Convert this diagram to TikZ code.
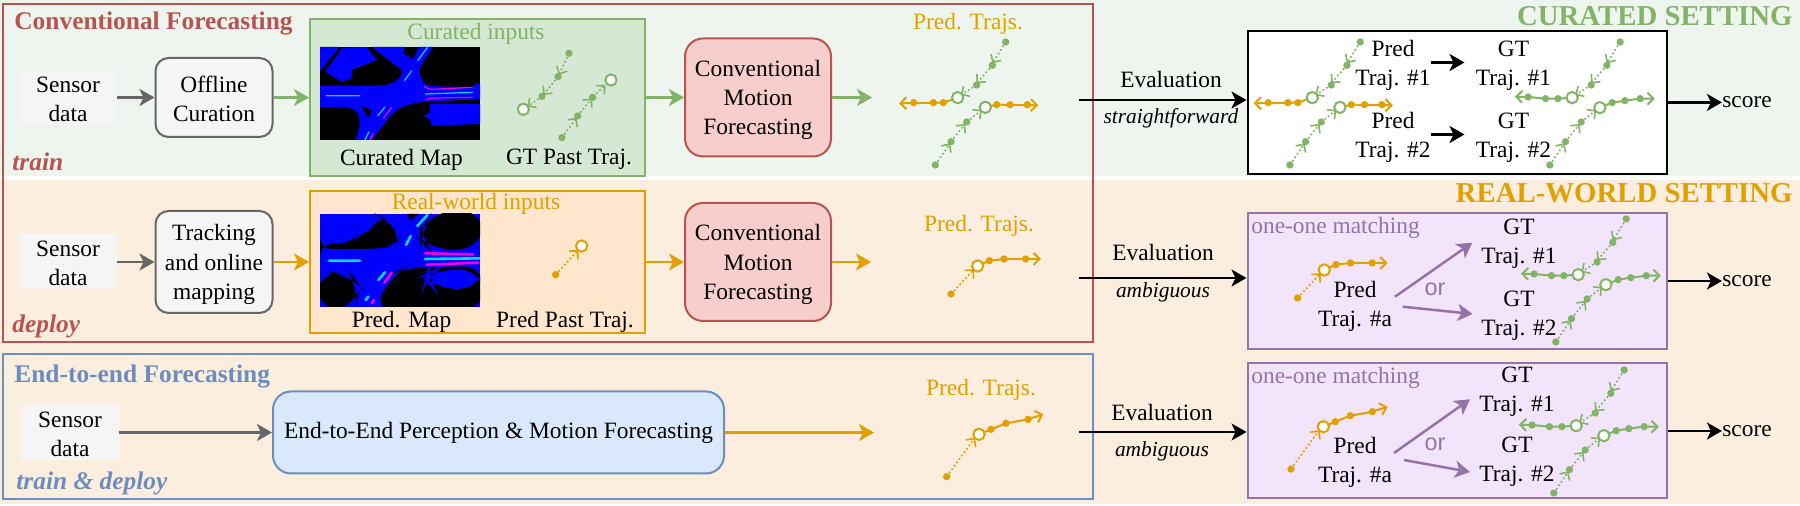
\documentclass[tikz,border=0pt]{standalone}
\usepackage{fontspec}
\setmainfont{Liberation Serif}
\newfontfamily\orfont{Liberation Sans}
\usetikzlibrary{arrows.meta}
\definecolor{bggreen}{HTML}{EEF5EE}
\definecolor{bgorange}{HTML}{FCEEDF}
\definecolor{dgreen}{HTML}{82B366}
\definecolor{lgreen}{HTML}{D5E8D4}
\definecolor{dorange}{HTML}{E0A000}
\definecolor{lorange}{HTML}{FFE6CC}
\definecolor{dred}{HTML}{B85450}
\definecolor{lred}{HTML}{F8CECC}
\definecolor{dblue}{HTML}{6C8EBF}
\definecolor{lblue}{HTML}{DAE8FC}
\definecolor{dpurple}{HTML}{9673A6}
\definecolor{lpurple}{HTML}{F2E4FA}
\definecolor{lgray}{HTML}{F5F5F5}
\definecolor{dgray}{HTML}{666666}
\definecolor{mapblue}{HTML}{0000FF}
\definecolor{mapcyan}{HTML}{00D8FF}
\definecolor{mapmag}{HTML}{F000E0}
\newcommand\upA{\rule{0pt}{10.7pt}}
\newcommand\upB{\rule{0pt}{9.5pt}}
\tikzset{
  lbl/.style={font=\fontsize{11.7}{14.6}\selectfont,inner sep=0pt,align=center},
  ttl/.style={font=\fontsize{12.7}{15}\selectfont\bfseries,inner sep=0pt},
  tag/.style={font=\fontsize{12.7}{15}\selectfont\bfseries\itshape,inner sep=0pt},
  sett/.style={font=\fontsize{14.4}{16}\selectfont\bfseries,inner sep=0pt},
  evtxt/.style={font=\fontsize{10.7}{13}\selectfont\itshape,inner sep=0pt},
  frame/.style={draw,line width=1pt,inner sep=0pt},
  sensor/.style={fill=lgray,lbl,minimum width=49pt,minimum height=27.5pt},
  graybox/.style={draw=dgray,fill=lgray,line width=1pt,rounded corners=6.5pt,lbl},
  pinkbox/.style={draw=dred,fill=lred,line width=1pt,rounded corners=9pt,lbl,minimum width=73pt,minimum height=59pt},
  conn/.style={line width=1.25pt,-{Stealth[length=7.5pt,width=8.5pt,inset=2pt]}},
  pastline/.style={line width=.8pt,dash pattern=on .9pt off 1.2pt,-{Straight Barb[length=3pt,width=6pt]}},
  futline/.style={line width=1pt,-{Straight Barb[length=3pt,width=6pt]}},
  crop/.style={scale=1/3},
}
\newcommand\tdots[2]{\foreach \p in {#2}{\fill[#1] \p circle[radius=11];}}
\newcommand\tring[2]{\draw[line width=1pt,draw=#1,fill=white] #2 circle[radius=17];}
% past trajectories (frame of a 3x crop)
\newcommand\pastA{%
  \draw[dgreen,pastline] (767,126)--(727,190);
  \draw[dgreen,pastline] (727,196)--(680,250);
  \draw[dgreen,pastline] (680,255)--(632,285);
  \tdots{dgreen}{(767,126),(727,196),(680,255)}}
\newcommand\pastB{%
  \draw[dgreen,pastline] (556,495)--(600,430);
  \draw[dgreen,pastline] (603,425)--(645,372);
  \draw[dgreen,pastline] (650,366)--(695,330);
  \tdots{dgreen}{(556,495),(603,425),(650,366)}}
\newcommand\predfut{%
  \draw[dorange,futline] (623,293)--(580,308)--(447,310);
  \draw[dorange,futline] (706,322)--(740,314)--(865,316);
  \tdots{dorange}{(580,308),(550,308),(491,308),(740,314),(780,314),(832,314)}
  \tring{dgreen}{(623,293)}\tring{dgreen}{(706,322)}}
\newcommand\gtfut{%
  \draw[dgreen,futline] (623,293)--(580,296)--(543,296)--(491,291)--(451,290);
  \draw[dgreen,futline] (706,323)--(743,308)--(781,302)--(827,296)--(871,296);
  \tdots{dgreen}{(580,296),(543,296),(491,291),(743,308),(781,302),(827,296)}
  \tring{dgreen}{(623,293)}\tring{dgreen}{(706,323)}}
\newcommand\rwone{%
  \draw[dorange,pastline] (573,372)--(642,298);
  \draw[dorange,futline] (653,288)--(688,272)--(732,267)--(843,267);
  \tdots{dorange}{(573,372),(688,272),(732,267),(797,267)}
  \tring{dorange}{(653,288)}}
\newcommand\rwtwo{%
  \draw[dorange,pastline] (560,920)--(645,803);
  \draw[dorange,futline] (657,793)--(693,778)--(738,760)--(804,748)--(850,733);
  \tdots{dorange}{(560,920),(693,778),(738,760),(804,748)}
  \tring{dorange}{(657,793)}}
\begin{document}
\begin{tikzpicture}[x=.5pt,y=-.5pt]
\useasboundingbox (0,0) rectangle (1800,506);
% setting bands
\fill[bggreen] (0,0) rectangle (1800,176);
\fill[bgorange] (0,180) rectangle (1800,504);
% frames
\draw[dred,line width=1pt] (3,4) rectangle (1093,342);
\draw[dblue,line width=1pt] (3,354) rectangle (1093,499);
\node[ttl,text=dred,anchor=west] (ctitle) at (14,24) {Conventional Forecasting};
\node[ttl,text=dblue,anchor=west] (etitle) at (14,376) {End-to-end Forecasting};
\node[tag,text=dred,anchor=west] (ttrain) at (12,162) {train};
\node[tag,text=dred,anchor=west] (tdeploy) at (12,326) {deploy};
\node[tag,text=dblue,anchor=west] (tboth) at (16,483) {train \& deploy};
\node[sett,text=dgreen,anchor=east] (scur) at (1793,16) {CURATED SETTING};
\node[sett,text=dorange,anchor=east] (sreal) at (1793,193) {REAL-WORLD SETTING};
% row 1
\node[sensor] (s1) at (68,97.5) {\upB Sensor\\data};
\node[graybox,minimum width=58.5pt,minimum height=39.5pt] (off) at (214,97.5) {\upB Offline\\Curation};
\node[frame,draw=dgreen,fill=lgreen,minimum width=167.5pt,minimum height=78.5pt] (cin) at (477.5,97.5) {};
\node[lbl,text=dgreen] (cint) at (476,34) {Curated inputs};
\node[lbl] (cm) at (401.5,159.5) {Curated Map};
\node[lbl] (gp) at (569,159.5) {GT Past Traj.};
\node[pinkbox] (m1) at (758,97.5) {\upA Conventional\\Motion\\Forecasting};
\coordinate (e1) at (872,97.5);
\node[lbl,text=dorange] (pt1) at (968,23.5) {Pred. Trajs.};
\draw[conn,dgray] (s1)--(off);
\draw[conn,dgreen] (off)--(cin);
\draw[conn,dgreen] (cin)--(m1);
\draw[conn,dgreen] (m1)--(e1);
% row 2
\node[sensor] (s2) at (68,262) {\upB Sensor\\data};
\node[graybox,minimum width=58.5pt,minimum height=51pt] (trk) at (214,262) {\upA Tracking\\and online\\mapping};
\node[frame,draw=dorange,fill=lorange,minimum width=167.5pt,minimum height=71pt] (rin) at (477.5,262) {};
\node[lbl,text=dorange] (rint) at (476,204) {Real-world inputs};
\node[lbl] (pm) at (401.5,321.5) {Pred. Map};
\node[lbl] (pp) at (565,321.5) {Pred Past Traj.};
\node[pinkbox] (m2) at (758,262) {\upA Conventional\\Motion\\Forecasting};
\coordinate (e2) at (871,262);
\node[lbl,text=dorange] (pt2) at (979,225.5) {Pred. Trajs.};
\draw[conn,dgray] (s2)--(trk);
\draw[conn,dorange] (trk)--(rin);
\draw[conn,dorange] (rin)--(m2);
\draw[conn,dorange] (m2)--(e2);
% row 3
\node[sensor] (s3) at (70,432.5) {\upB Sensor\\data};
\node[draw=dblue,fill=lblue,line width=1pt,rounded corners=9pt,lbl,minimum width=225.5pt,minimum height=41pt] (e2e) at (498.5,432.5) {End-to-End Perception \& Motion Forecasting};
\coordinate (e3) at (874,432.5);
\node[lbl,text=dorange] (pt3) at (981,389.5) {Pred. Trajs.};
\draw[conn,dgray] (s3)--(e2e);
\draw[conn,dorange] (e2e)--(e3);
% curated map
\begin{scope}[shift={(270,30)},crop]
\clip (150,51) rectangle (630,330);
\fill[black] (150,51) rectangle (630,330);
\fill[mapblue] (150,51)--(208,51)--(150,125)--cycle;
\fill[mapblue] (165,125)--(218,53)--(290,51)--(320,90)--(245,120)--(245,145)--(215,155)--cycle;
\fill[mapblue] (150,167)--(330,167) .. controls (375,165) and (400,140) .. (395,120)--(305,51)--(405,51)--(400,70)--(430,88)--(447,51)--(490,51)--(450,110) .. controls (445,140) and (460,165) .. (480,168)--(605,172)--(620,160)--(630,162)--(630,207)--(470,215) .. controls (400,220) and (370,240) .. (345,280)--(305,330)--(255,330) .. controls (270,300) and (275,270) .. (260,245) .. controls (250,232) and (220,230) .. (150,232)--cycle;
\fill[black] (275,228)--(305,240)--(295,265)--cycle;
\fill[mapblue] (480,222)--(630,222)--(630,282)--(485,287)--(478,265)--(460,258)--(478,248)--cycle;
\draw[mapcyan,line width=.6pt] (168,197)--(270,197) (403,152)--(425,122) (443,92)--(473,52) (465,192)--(608,187) (323,258)--(345,231) (285,330)--(297,305);
\draw[mapmag,line width=.6pt] (462,168) .. controls (470,175) .. (485,178)--(608,172) (468,210) .. controls (475,205) .. (490,204)--(608,202) (340,265)--(365,232) (300,330)--(310,310);
\end{scope}
% predicted map
\begin{scope}[shift={(270,160)},crop]
\clip (150,162) rectangle (630,441);
\fill[mapblue] (150,162) rectangle (630,441);
\fill[black,rounded corners=6pt] (150,252)--(245,250)--(260,225)--(315,210)--(325,165)--(335,170)--(392,225)--(375,258)--(330,266)--(150,268)--cycle;
\fill[black,rounded corners=12pt] (490,150)--(640,150)--(640,265)--(480,272)--(450,240)--(450,215)--cycle;
\fill[black,rounded corners=10pt] (370,340)--(310,450)--(640,450)--(640,318)--(470,322)--(400,325)--cycle;
\fill[mapblue,rounded corners=12pt] (465,360)--(470,340)--(490,330)--(640,328)--(640,385)--(490,388)--cycle;
\fill[black,rounded corners=12pt] (140,335)--(240,338)--(270,375)--(255,450)--(140,450)--cycle;
\fill[black] (420,182)--(445,162)--(412,162)--cycle;
\draw[mapcyan,line width=1.3pt,line cap=round] (178,302)--(270,302) (408,255)--(422,228) (442,198)--(472,165) (465,297)--(630,295) (325,360)--(345,337) (287,420)--(295,410);
\draw[mapmag,line width=1.3pt,line cap=round] (465,280)--(610,283) (470,314)--(625,308) (343,368)--(365,338) (305,430)--(312,420);
\end{scope}
% curated input GT past trajectories
\begin{scope}[shift={(270,30)},crop]
\draw[dgreen,pastline] (897,70)--(867,135);
\draw[dgreen,pastline] (864,140)--(820,195);
\draw[dgreen,pastline] (816,199)--(772,230);
\tdots{dgreen}{(897,70),(864,140),(816,199)}
\tring{dgreen}{(760,238)}
\draw[dgreen,pastline] (876,323)--(920,263);
\draw[dgreen,pastline] (923,258)--(965,205);
\draw[dgreen,pastline] (970,200)--(1006,165);
\tdots{dgreen}{(876,323),(923,258),(968,202)}
\tring{dgreen}{(1023,150)}
\end{scope}
\begin{scope}[shift={(270,160)},crop]
\draw[dorange,pastline] (857,344)--(925,270);
\tdots{dorange}{(857,344)}
\tring{dorange}{(935,258)}
\end{scope}
% predicted trajectories
\begin{scope}[shift={(750,0)},crop]\pastA\pastB\predfut\end{scope}
\begin{scope}[shift={(760,170)},crop]\rwone\rwtwo\end{scope}
% evaluation boxes
\node[frame,draw=black,fill=white,minimum width=209.5pt,minimum height=71.5pt] (ev1) at (1457,102.4) {};
\node[frame,draw=dpurple,fill=lpurple,minimum width=209.5pt,minimum height=68pt] (ev2) at (1457,281) {};
\node[frame,draw=dpurple,fill=lpurple,minimum width=209.5pt,minimum height=67.5pt] (ev3) at (1457,431) {};
% evaluation arrows
\coordinate (a1) at (1079,100);
\coordinate (a2) at (1079,278);
\coordinate (a3) at (1079,432);
\draw[conn,black] (a1)--(a1-|ev1.west);
\draw[conn,black] (a2)--(a2-|ev2.west);
\draw[conn,black] (a3)--(a3-|ev3.west);
\node[lbl] (ev1t) at (1171,80) {Evaluation};
\node[evtxt] (ev1s) at (1171,118) {straightforward};
\node[lbl] (ev2t) at (1163,253) {Evaluation};
\node[evtxt] (ev2s) at (1163,292) {ambiguous};
\node[lbl] (ev3t) at (1162,413) {Evaluation};
\node[evtxt] (ev3s) at (1162,451) {ambiguous};
% scores
\node[lbl] (sc1) at (1747,102) {score};
\node[lbl] (sc2) at (1747,281) {score};
\node[lbl] (sc3) at (1747,431) {score};
\draw[conn,black] (ev1.east)--(ev1.east-|sc1.west);
\draw[conn,black] (ev2.east)--(ev2.east-|sc2.west);
\draw[conn,black] (ev3.east)--(ev3.east-|sc3.west);
% curated box content
\begin{scope}[shift={(1104.6,0)},crop]\pastA\pastB\predfut\end{scope}
\begin{scope}[shift={(1364.5,0)},crop]\pastA\pastB\gtfut\end{scope}
\node[lbl] (p1) at (1393,62.5) {\upA Pred\\Traj. \#1};
\node[lbl] (g1) at (1513.5,62.5) {\upA GT\\Traj. \#1};
\node[lbl] (p2) at (1393,134.5) {\upA Pred\\Traj. \#2};
\node[lbl] (g2) at (1513.5,134.5) {\upA GT\\Traj. \#2};
\draw[conn,black,shorten >=5.5pt] (p1)--(g1);
\draw[conn,black,shorten >=5.5pt] (p2)--(g2);
% real-world box content
\begin{scope}[shift={(1106.6,174)},crop]\rwone\end{scope}
\begin{scope}[shift={(1370.5,177)},crop]\pastA\pastB\gtfut\end{scope}
\node[lbl,text=dpurple,anchor=west] (oo1) at (1251,227.5) {one-one matching};
\node[lbl] (p3) at (1355,303.5) {\upA Pred\\Traj. \#a};
\node[lbl] (g3) at (1519,241) {\upA GT\\Traj. \#1};
\node[lbl] (g4) at (1519,312.5) {\upA GT\\Traj. \#2};
\coordinate (q1) at (1395,296.7);
\coordinate (q2) at (1472.3,242.7);
\coordinate (q3) at (1402.7,306.7);
\coordinate (q4) at (1472.7,314);
\draw[conn,dpurple] (q1)--(q2);
\draw[conn,dpurple] (q3)--(q4);
\node[lbl,text=dpurple,font=\fontsize{11.7}{14}\selectfont\orfont] (or1) at (1435,289) {or};
% end-to-end box content
\begin{scope}[shift={(1104.3,162.4)},crop]\rwtwo\end{scope}
\begin{scope}[shift={(1368.5,328)},crop]\pastA\pastB\gtfut\end{scope}
\node[lbl,text=dpurple,anchor=west] (oo2) at (1251,377.5) {one-one matching};
\node[lbl] (p4) at (1355,460) {\upA Pred\\Traj. \#a};
\node[lbl] (g5) at (1517,389) {\upA GT\\Traj. \#1};
\node[lbl] (g6) at (1517,459) {\upA GT\\Traj. \#2};
\coordinate (q5) at (1394,453);
\coordinate (q6) at (1470,399.3);
\coordinate (q7) at (1404,460);
\coordinate (q8) at (1470,472);
\draw[conn,dpurple] (q5)--(q6);
\draw[conn,dpurple] (q7)--(q8);
\node[lbl,text=dpurple,font=\fontsize{11.7}{14}\selectfont\orfont] (or2) at (1435,444) {or};
\end{tikzpicture}
\end{document}
